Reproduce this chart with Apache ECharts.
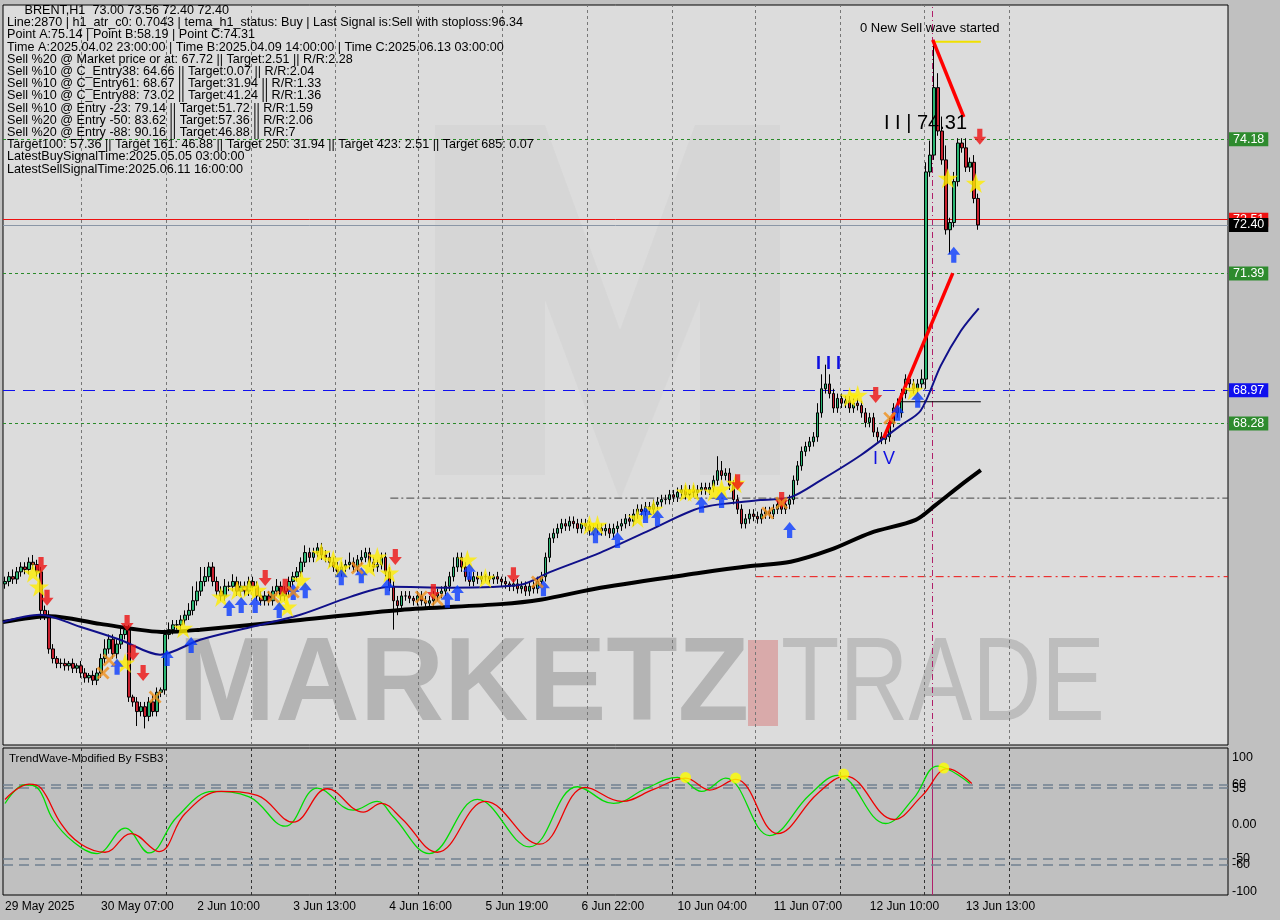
<!DOCTYPE html>
<html><head><meta charset="utf-8">
<script src="https://cdn.jsdelivr.net/npm/echarts@6/dist/echarts.min.js"></script>
<style>html,body{margin:0;padding:0;background:#c0c0c0}#c{width:1280px;height:920px}</style>
</head><body><div id="c"></div>
<script>
// ---- data ----
const closes = [
65.0,65.1,65.05,65.2,65.3,65.25,65.4,65.35,65.2,64.4,
64.3,63.6,63.4,63.3,63.3,63.25,63.3,63.2,63.25,63.1,
63.0,63.05,62.95,63.1,63.4,63.6,63.8,63.5,63.7,63.9,
64.0,62.6,62.5,62.3,62.4,62.2,62.5,62.3,62.7,62.75,
63.9,64.0,64.1,64.1,64.2,64.3,64.4,64.6,64.8,65.0,
65.1,65.3,65.0,64.8,64.7,64.9,64.9,65.0,64.8,64.9,
64.8,65.0,64.9,64.7,64.6,64.7,64.6,64.8,64.9,64.7,
64.8,65.0,65.1,65.2,65.4,65.6,65.5,65.6,65.7,65.55,
65.5,65.4,65.3,65.2,65.3,65.35,65.4,65.3,65.45,65.5,
65.6,65.4,65.3,65.35,65.5,65.2,64.9,64.6,64.5,64.7,
64.7,64.65,64.6,64.7,64.6,64.55,64.6,64.7,64.75,64.8,
64.9,65.1,65.3,65.5,65.3,65.1,65.0,65.1,65.05,65.1,
65.1,65.05,65.1,65.05,65.0,64.95,64.9,64.95,64.85,64.9,
64.8,64.9,64.85,65.0,65.1,65.5,65.9,66.0,66.1,66.2,
66.15,66.25,66.2,66.1,66.2,66.15,66.05,66.1,66.1,66.05,
66.1,66.0,66.1,66.15,66.2,66.3,66.25,66.4,66.5,66.45,
66.55,66.5,66.6,66.65,66.7,66.7,66.8,66.75,66.85,66.9,
66.8,66.9,66.85,66.9,66.95,66.9,66.95,67.1,67.3,67.2,
67.25,67.0,66.7,66.5,66.2,66.3,66.4,66.35,66.3,66.4,
66.45,66.4,66.5,66.6,66.5,66.6,66.7,67.1,67.4,67.7,
67.8,67.9,68.0,68.5,69.0,69.1,68.9,68.6,68.8,68.7,
68.75,68.6,68.7,68.65,68.5,68.3,68.4,68.1,68.0,67.95,
68.0,68.3,68.6,68.5,68.9,69.2,69.1,69.0,69.1,69.2,
73.5,73.85,75.25,74.35,73.75,72.3,72.45,73.3,74.1,74.0,73.6,73.7,72.95,72.4];
const firstOpen = 64.95;
const wickHi = [
.1,.1,.15,.1,.1,.1,.1,.15,.1,.1, .1,.1,.1,.05,.1,.1,.05,.1,.05,.1, .1,.05,.1,.1,.1,.2,.1,.1,.1,.15,
.1,.1,.05,.1,.1,.1,.1,.15,.1,.05, .1,.15,.1,.1,.1,.1,.15,.3,.2,.3, .2,.1,.1,.1,.1,.15,.1,.15,.1,.1,
.1,.1,.1,.1,.1,.1,.1,.1,.15,.1, .1,.1,.1,.1,.1,.15,.1,.1,.1,.1, .1,.1,.1,.1,.1,.1,.2,.1,.1,.15,
.1,.1,.1,.1,.1,.1,.1,.1,.1,.1, .1,.1,.05,.1,.1,.1,.1,.1,.1,.1, .1,.1,.2,.1,.1,.1,.1,.1,.1,.1,
.05,.1,.05,.1,.05,.1,.05,.1,.1,.1, .1,.1,.1,.1,.1,.1,.1,.1,.1,.1, .1,.1,.1,.1,.1,.1,.1,.1,.1,.1,
.1,.1,.1,.1,.1,.1,.1,.1,.1,.1, .1,.1,.1,.1,.1,.1,.1,.1,.1,.1, .1,.1,.1,.1,.1,.1,.1,.1,.3,.2,
.1,.1,.1,.1,.1,.1,.1,.1,.1,.1, .1,.1,.1,.1,.1,.1,.1,.1,.1,.1, .1,.1,.1,.2,.3,.4,.2,.1,.1,.1,
.1,.1,.1,.1,.1,.1,.1,.1,.1,.1, .1,.1,.1,.2,.1,.1,.1,.1,.1,.2,
.2,.3,.99,.3,.3,.3,.1,.2,.1,.1,.2,.1,.15,.1];
const wickLo = [
.1,.1,.1,.1,.1,.1,.1,.1,.1,.2, .1,.1,.1,.1,.1,.1,.1,.1,.1,.1, .1,.1,.1,.1,.1,.1,.1,.1,.1,.1,
.1,.1,.1,.3,.1,.25,.1,.1,.1,.1, .1,.1,.1,.1,.1,.1,.1,.1,.1,.1, .1,.1,.1,.1,.1,.1,.1,.1,.1,.1,
.1,.1,.1,.1,.1,.1,.1,.1,.1,.1, .1,.1,.1,.1,.1,.1,.1,.1,.1,.1, .1,.1,.1,.1,.1,.1,.1,.1,.1,.1,
.1,.1,.1,.1,.1,.1,.1,.6,.2,.1, .1,.1,.1,.1,.1,.1,.1,.1,.1,.1, .1,.1,.1,.1,.1,.1,.1,.1,.1,.1,
.1,.1,.1,.1,.1,.1,.1,.1,.1,.1, .1,.1,.1,.1,.1,.1,.1,.1,.1,.1, .1,.1,.1,.1,.1,.1,.1,.1,.1,.1,
.1,.1,.1,.1,.1,.1,.1,.1,.1,.1, .1,.1,.1,.1,.1,.1,.1,.1,.1,.1, .1,.1,.1,.1,.1,.1,.1,.1,.1,.1,
.1,.1,.1,.1,.1,.1,.1,.1,.1,.1, .1,.1,.1,.1,.1,.1,.1,.1,.1,.1, .1,.1,.1,.1,.1,.1,.1,.1,.1,.1,
.1,.1,.1,.1,.1,.1,.1,.1,.1,.1, .1,.1,.1,.1,.1,.1,.1,.1,.1,.1,
.2,.1,.1,.1,.1,.1,.5,.1,.1,.1,.1,.1,.1,.1];
const dateLabels = ["29 May 2025","30 May 07:00","2 Jun 10:00","3 Jun 13:00","4 Jun 16:00","5 Jun 19:00","6 Jun 22:00","10 Jun 04:00","11 Jun 07:00","12 Jun 10:00","13 Jun 13:00"];
const labelEvery = 24;
const totalSlots = 306;
const gridLinesAt = [19.5,40.75,62,83,103.75,124.75,146,167.25,188,209.25,230,251.25];
const priceTicks = [76.55,75.50,74.45,73.45,70.30,69.30,67.20,66.15,65.10,64.05,63.05,62.00];
const maSlow = [[0,64.16],[11.75,64.28],[24.25,64.12],[40.5,63.95],[49.25,64.0],[74.25,64.2],[99.25,64.41],[124.25,64.53],[134.25,64.62],[149.25,64.87],[174.25,65.18],[186.75,65.32],[196.75,65.41],[206.75,65.66],[216.75,66.01],[228,66.28],[233,66.59],[239.25,67.0],[244.25,67.31]];
const maFast = [[0,64.16],[9.25,64.31],[19.25,64.06],[29.25,63.79],[39.25,63.48],[49.25,63.79],[61.75,64.05],[74.25,64.31],[86.75,64.68],[96.75,64.89],[111.75,64.87],[129.25,64.93],[136.75,65.2],[149.25,65.6],[161.75,66.07],[174.25,66.53],[189.25,66.69],[196.75,66.75],[204.25,67.1],[214.25,67.62],[224.25,68.24],[229.25,68.55],[234.25,69.48],[239.25,70.2],[243.75,70.67]];
const zigUp = [[220,67.98],[237.25,71.4]];
const zigDown = [[232.25,76.24],[240,74.64]];
const starPts = [[7,65.18],[8.5,64.89],[30,63.31],[44.5,64.03],[54,64.68],[58,64.82],[61,64.86],[63,64.82],[69.5,64.68],[70.5,64.47],[74,65.03],[79,65.59],[82,65.45],[84,65.28],[91,65.30],[93,65.51],[96,65.18],[115.5,65.45],[120,65.07],[146,66.17],[148,66.17],[158,66.32],[162,66.5],[170,66.86],[172,66.86],[177,66.86],[179,66.92],[182.5,67.04],[211,68.83],[213,68.87],[227,68.97],[235.5,73.37],[242.5,73.27]];
const upArrows = [[28,63.23],[40.5,63.41],[46.5,63.68],[56,64.45],[59,64.51],[62.5,64.51],[68.5,64.41],[72,64.78],[75,64.82],[84,65.09],[89,65.13],[95.5,64.88],[110.5,64.62],[113,64.76],[116,65.2],[134.5,64.86],[147.5,65.96],[153,65.86],[160,66.38],[163,66.32],[174,66.59],[179,66.69],[196,66.07],[223,68.5],[228,68.77],[237,71.78]];
const downArrows = [[9,65.34],[10.5,64.66],[30.5,64.14],[32,63.52],[34.5,63.1],[65,65.07],[70,64.89],[97.5,65.51],[107,64.78],[127,65.13],[183,67.06],[194,66.69],[217.5,68.87],[243.5,74.23]];
const crossPts = [[24.5,63.1],[26,63.37],[37.5,62.6],[67,64.68],[72,64.78],[88,65.28],[104,64.68],[108,64.62],[133,64.99],[190.5,66.42],[194,66.63],[221,68.39]];
const oscRed = [[0,38],[6,61],[9,55],[14,2],[19,-29],[25,-41],[31.5,-13],[38.5,-40],[45,17],[54,50],[63,44],[72,4],[80.5,54],[89.5,19],[94,32],[99,10],[108,-41],[120,35],[133.5,-29],[145,56],[154,35],[162,53],[170,70],[176,52],[182.5,68],[193,-13],[203,47],[210,73],[222,8],[229,43],[235.5,84],[241.5,62]];
const oscGreen = [[0,32],[5,60],[8,56],[12,8],[17,-25],[23,-43],[30,-5],[36,-42],[43,12],[52,50],[61,42],[70,-2],[78,55],[87,22],[93,35],[97,12],[106,-43],[118,38],[131,-33],[143,57],[152,32],[160,54],[168,71],[174,50],[180,70],[191,-16],[201,45],[208,74],[220,2],[227,40],[233,88],[241,62]];
const oscDots = [[170,71],[182.5,70],[209.5,76],[234.5,85]];
const infoLines = [
"     BRENT,H1  73.00 73.56 72.40 72.40",
"Line:2870 | h1_atr_c0: 0.7043 | tema_h1_status: Buy | Last Signal is:Sell with stoploss:96.34",
"Point A:75.14 | Point B:58.19 | Point C:74.31",
"Time A:2025.04.02 23:00:00 | Time B:2025.04.09 14:00:00 | Time C:2025.06.13 03:00:00",
"Sell %20 @ Market price or at: 67.72 || Target:2.51 || R/R:2.28",
"Sell %10 @ C_Entry38: 64.66 || Target:0.07 || R/R:2.04",
"Sell %10 @ C_Entry61: 68.67 || Target:31.94 || R/R:1.33",
"Sell %10 @ C_Entry88: 73.02 || Target:41.24 || R/R:1.36",
"Sell %10 @ Entry -23: 79.14 || Target:51.72 || R/R:1.59",
"Sell %20 @ Entry -50: 83.62 || Target:57.36 || R/R:2.06",
"Sell %20 @ Entry -88: 90.16 || Target:46.88 || R/R:7",
"Target100: 57.36 || Target 161: 46.88 || Target 250: 31.94 || Target 423: 2.51 || Target 685: 0.07",
"LatestBuySignalTime:2025.05.05 03:00:00",
"LatestSellSignalTime:2025.06.11 16:00:00"];

// ---- build ----
const cats = Array.from({length: totalSlots}, (_, i) => i);
const ohlc = closes.map((c, i) => {
  const o = i === 0 ? firstOpen : closes[i - 1];
  return [o, c, Math.min(o, c) - wickLo[i], Math.max(o, c) + wickHi[i]];
});
const sh = a => a.map(p => [p[0] + 0.5, p[1]]);
const chart = echarts.init(document.getElementById('c'));
const F = 'Liberation Sans, Arial, sans-serif';
function hl(y, color, type, label, bg, fg) {
  return {yAxis: y, lineStyle: {color, type, width: 1},
    label: label ? {show: true, position: 'end', formatter: label, backgroundColor: bg, color: fg || '#fff', padding: [1, 4, 0, 4], fontFamily: F, fontSize: 12.5, distance: 1} : {show: false}};
}
const opt = {
  animation: false,
  backgroundColor: '#c0c0c0',
  grid: [
    {left: 3, right: 52, top: 5, height: 740, show: true, backgroundColor: '#dcdcdc', borderColor: '#000', borderWidth: 1},
    {left: 3, right: 52, top: 748, height: 147, show: true, backgroundColor: '#c0c0c0', borderColor: '#000', borderWidth: 1}
  ],
  xAxis: [
    {type: 'category', data: cats, gridIndex: 0, boundaryGap: true, axisLine: {show: false}, axisTick: {show: false}, axisLabel: {show: false}, splitLine: {show: false}},
    {type: 'category', data: cats, gridIndex: 1, boundaryGap: true, axisLine: {show: false}, axisTick: {show: false}, splitLine: {show: false},
      axisLabel: {show: true, interval: (i) => i % labelEvery === 0 && i / labelEvery < dateLabels.length, formatter: (v) => dateLabels[v / labelEvery] || '', align: 'left', color: '#000', fontFamily: F, fontSize: 12, margin: 6}},
    {type: 'value', gridIndex: 0, min: 0, max: totalSlots, show: false},
    {type: 'value', gridIndex: 1, min: 0, max: totalSlots, show: false}
  ],
  yAxis: [
    {type: 'value', gridIndex: 0, min: 61.606, max: 76.965, position: 'right', axisLine: {show: false}, axisLabel: {show: false}, axisTick: {show: false}, splitLine: {show: false}},
    {type: 'value', gridIndex: 1, min: -105, max: 115, interval: 5, position: 'right', axisLine: {show: false}, axisTick: {show: false}, splitLine: {show: false},
      axisLabel: {color: '#000', fontFamily: F, fontSize: 12.5, margin: 4, formatter: v => ({'100':'100','60':'60','55':'55','0':'0.00','-50':'-50','-60':'-60','-100':'-100'})[String(v)] || ''}}
  ],
  graphic: [
    {type: 'polygon', z: 0, shape: {points: [[435,125],[545,125],[620,330],[695,125],[780,125],[780,475],[700,475],[700,300],[620,500],[545,300],[545,475],[435,475]]}, style: {fill: 'rgba(170,170,170,0.1)'}},
    {type: 'text', x: 178, y: 628, z: 0, style: {text: 'MARKETZ', font: 'bold 118px ' + F, fill: 'rgba(140,140,140,0.5)'}, scaleX: 0.99},
    {type: 'rect', shape: {x: 748, y: 640, width: 30, height: 86}, z: 0, style: {fill: 'rgba(215,130,130,0.55)'}},
    {type: 'text', x: 781, y: 628, z: 0, style: {text: 'TRADE', font: '118px ' + F, fill: 'rgba(150,150,150,0.45)'}, scaleX: 0.81},
    {type: 'text', left: 7, top: 4, z: 50, style: {text: infoLines.join('\n'), font: '12.6px ' + F, lineHeight: 12.2, fill: '#000'}},
    {type: 'text', left: 860, top: 22, z: 50, style: {text: '0 New Sell wave started', font: '13px ' + F, fill: '#000'}},
    {type: 'text', left: 884, top: 113, z: 50, style: {text: 'I I | 74.31', font: '20px ' + F, fill: '#000'}},
    {type: 'text', left: 816, top: 355, z: 50, style: {text: 'I I I', font: 'bold 18px ' + F, fill: '#1010e0'}},
    {type: 'text', left: 873, top: 450, z: 50, style: {text: 'I V', font: '18px ' + F, fill: '#1010e0'}},
    {type: 'text', left: 9, top: 753, z: 50, style: {text: 'TrendWave-Modified By FSB3', font: '11.5px ' + F, fill: '#000'}}
  ],
  series: [
    {type: 'line', xAxisIndex: 2, yAxisIndex: 0, data: [], silent: true,
      markLine: {symbol: 'none', silent: true, label: {show: false},
        data: gridLinesAt.map(x => ({xAxis: x, lineStyle: {color: '#777', type: [3, 3], width: 1}})).concat([{xAxis: 232, lineStyle: {color: '#b0206a', type: [6, 3, 1, 3], width: 1}}])}},
    {type: 'line', xAxisIndex: 3, yAxisIndex: 1, data: [], silent: true,
      markLine: {symbol: 'none', silent: true, label: {show: false},
        data: gridLinesAt.map(x => ({xAxis: x, lineStyle: {color: '#333', type: [3, 3], width: 1}})).concat([{xAxis: 232, lineStyle: {color: '#b0206a', type: 'solid', width: 1}}])
          .concat([60, 55, -50, -60].map(v => ({yAxis: v, lineStyle: {color: '#708090', type: [10, 6], width: 1.5}})))}},
    {type: 'candlestick', xAxisIndex: 0, yAxisIndex: 0, data: ohlc, barWidth: 3, z: 5,
      itemStyle: {color: '#2bb673', color0: '#c8202e', borderColor: '#000', borderColor0: '#000', borderWidth: 1},
      markLine: {symbol: 'none', silent: true, z: 3, data: [
        hl(74.18, '#2a8a2a', [3, 3], '74.18', '#2e8b2e'),
        hl(72.51, '#ee1111', 'solid', '72.51', '#ee1111'),
        hl(72.40, '#8a96a6', 'solid', '72.40', '#000'),
        hl(71.39, '#2a8a2a', [3, 3], '71.39', '#2e8b2e'),
        hl(68.97, '#1010ee', [12, 8], '68.97', '#1010ee'),
        hl(68.28, '#2a8a2a', [3, 3], '68.28', '#2e8b2e'),
        ...priceTicks.map(v => ({yAxis: v, lineStyle: {opacity: 0}, label: {show: true, position: 'end', formatter: v.toFixed(2), color: '#000', fontFamily: F, fontSize: 12.5, distance: 10}}))
      ]}},
    {type: 'line', xAxisIndex: 2, yAxisIndex: 0, data: [[96.75, 66.73], [306, 66.73]], symbol: 'none', lineStyle: {color: '#444', width: 1, type: [8, 3, 2, 3]}, z: 3},
    {type: 'line', xAxisIndex: 2, yAxisIndex: 0, data: [[188, 65.10], [306, 65.10]], symbol: 'none', lineStyle: {color: '#ee1111', width: 1, type: [8, 4, 2, 4]}, z: 3},
    {type: 'line', xAxisIndex: 2, yAxisIndex: 0, data: [[223.75, 68.73], [244.25, 68.73]], symbol: 'none', lineStyle: {color: '#000', width: 1}, z: 6},
    {type: 'line', xAxisIndex: 2, yAxisIndex: 0, data: [[232.25, 76.2], [244.25, 76.2]], symbol: 'none', lineStyle: {color: '#f0e000', width: 2}, z: 6},
    {type: 'line', xAxisIndex: 2, yAxisIndex: 0, data: maSlow, symbol: 'none', smooth: 0.3, lineStyle: {color: '#000', width: 4}, z: 7},
    {type: 'line', xAxisIndex: 2, yAxisIndex: 0, data: maFast, symbol: 'none', smooth: 0.3, lineStyle: {color: '#10108a', width: 2}, z: 7},
    {type: 'line', xAxisIndex: 2, yAxisIndex: 0, data: zigUp, symbol: 'none', lineStyle: {color: '#ff0000', width: 3.5}, z: 8},
    {type: 'line', xAxisIndex: 2, yAxisIndex: 0, data: zigDown, symbol: 'none', lineStyle: {color: '#ff0000', width: 3.5}, z: 8},
    {type: 'scatter', xAxisIndex: 2, yAxisIndex: 0, data: sh(starPts), symbol: 'path://M50,0 L61,35 L98,35 L68,57 L79,92 L50,70 L21,92 L32,57 L2,35 L39,35 Z', symbolSize: 20, itemStyle: {color: '#ffee00'}, z: 9},
    {type: 'scatter', xAxisIndex: 2, yAxisIndex: 0, data: sh(upArrows), symbol: 'path://M50,0 L100,50 L70,50 L70,100 L30,100 L30,50 L0,50 Z', symbolSize: [13, 16], itemStyle: {color: '#0a3cff'}, z: 9},
    {type: 'scatter', xAxisIndex: 2, yAxisIndex: 0, data: sh(downArrows), symbol: 'path://M50,100 L100,50 L70,50 L70,0 L30,0 L30,50 L0,50 Z', symbolSize: [13, 16], itemStyle: {color: '#ee1111'}, z: 9},
    {type: 'scatter', xAxisIndex: 2, yAxisIndex: 0, data: sh(crossPts), symbol: 'path://M0,15 L15,0 L50,35 L85,0 L100,15 L65,50 L100,85 L85,100 L50,65 L15,100 L0,85 L35,50 Z', symbolSize: 13, itemStyle: {color: '#f0901a'}, z: 9},
    {type: 'line', xAxisIndex: 3, yAxisIndex: 1, data: sh(oscGreen), symbol: 'none', smooth: 0.4, lineStyle: {color: '#00dd00', width: 1.3}, z: 5},
    {type: 'line', xAxisIndex: 3, yAxisIndex: 1, data: sh(oscRed), symbol: 'none', smooth: 0.4, lineStyle: {color: '#ee0000', width: 1.3}, z: 6},
    {type: 'scatter', xAxisIndex: 3, yAxisIndex: 1, data: sh(oscDots), symbol: 'circle', symbolSize: [11, 11], itemStyle: {color: '#ffff00'}, z: 7}
  ]
};
chart.setOption(opt);
</script></body></html>
